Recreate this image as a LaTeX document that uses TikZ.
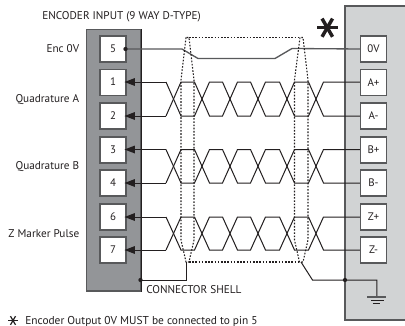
\documentclass[tikz,border=0pt]{standalone}
\usepackage{fontspec}
\setmainfont{PT Sans}
\definecolor{leftgray}{HTML}{939598}
\definecolor{rightgray}{HTML}{D1D3D4}
\definecolor{edgegray}{HTML}{58595B}
\definecolor{txt}{HTML}{231F20}
\tikzset{
  x=0.75pt,y=-0.75pt,
  pinbox/.style={draw=edgegray,fill=white,line width=0.9pt,minimum width=19.6pt,minimum height=19.6pt,inner sep=0pt,font=\fontsize{8.2pt}{9pt}\selectfont,text=txt},
  lab/.style={inner sep=0pt,font=\fontsize{8.42pt}{9pt}\selectfont,text=txt},
  wire/.style={line width=0.75pt,draw=txt},
  wirezero/.style={line width=1pt,draw=edgegray},
  shield/.style={line width=0.8pt,draw=txt,dash pattern=on 1.2pt off 1.2pt},
  jdot/.style={circle,fill=txt,inner sep=0pt,minimum size=3.2pt},
}
\begin{document}
\begin{tikzpicture}
\useasboundingbox (0,0) rectangle (405,326);
\fill[white] (0,0) rectangle (405,326);
% housings
\node[draw=edgegray,fill=leftgray,line width=1pt,minimum width=40.6pt,minimum height=196pt,inner sep=0pt,anchor=north west] (lhouse) at (86,29) {};
\draw[txt,line width=0.9pt] (lhouse.north east) -- (lhouse.south east);
\fill[rightgray] (345,6) rectangle (405,320);
\draw[edgegray,line width=1pt] (405,6) -- (345,6) -- (345,320) -- (405,320);
% pins
\foreach \n/\t/\yy in {p5/5/49,p1/1/82.5,p2/2/116,p3/3/150,p4/4/183,p6/6/217,p7/7/250}
  \node[pinbox] (\n) at (113,\yy) {\raisebox{0.6pt}{\t}};
\foreach \n/\t/\yy in {q0/0V/49,qa/A+/82.5,qb/A-/116,qc/B+/150,qd/B-/183,qe/Z+/217,qf/Z-/250}
  \node[pinbox] (\n) at (373.5,\yy) {\t};
% twisted pairs
\foreach \ta/\tb/\qa/\qb/\ya/\yb in {p1/p2/qa/qb/82/116,p3/p4/qc/qd/149.5/183,p6/p7/qe/qf/217/250}{
  \draw[wire] (166,\ya) -- (181,\yb) -- (194.5,\yb) -- (209.5,\ya) -- (222.5,\ya) -- (237.5,\yb) -- (250.5,\yb) -- (265.5,\ya) -- (279.5,\ya) -- (294.5,\yb) -- (308.5,\yb) -- (323.5,\ya) -- (\qa.west |- 0,\ya);
  \draw[wire] (166,\yb) -- (181,\ya) -- (194.5,\ya) -- (209.5,\yb) -- (222.5,\yb) -- (237.5,\ya) -- (250.5,\ya) -- (265.5,\yb) -- (279.5,\yb) -- (294.5,\ya) -- (308.5,\ya) -- (323.5,\yb) -- (\qb.west |- 0,\yb);
  \draw[wire] (166,\ya) -- (\ta.east |- 0,\ya);
  \draw[wire] (166,\yb) -- (\tb.east |- 0,\yb);
  \fill[txt] (124.5,\ya) -- (135,\ya-4) -- (135,\ya+4) -- cycle;
  \fill[txt] (124.5,\yb) -- (135,\yb-4) -- (135,\yb+4) -- cycle;
}
% 0V wire
\draw[wirezero] (p5.east) -- (182,49) -- (198,58.5) -- (275,58.5) -- (292,48.5) -- (q0.west);
\node[jdot] (d5) at (125.5,49) {};
% shields
\draw[shield] (186,37.5) -- (181,80) -- (181,240) -- (186,262) -- (189,262) -- (194,240) -- (194,80) -- (189,37.5) -- cycle;
\draw[shield] (300,37.5) -- (294.5,80) -- (294.5,240) -- (299.5,262) -- (303,262) -- (308,240) -- (308,80) -- (303,37.5) -- cycle;
\draw[shield] (189,37.5) -- (300,37.5);
\draw[shield] (189,262) -- (299.5,262);
% shell and ground wires
\coordinate (gnd) at (377,297);
\node[jdot] (dl) at (140.5,280) {};
\node[jdot] (dr) at (345,280) {};
\draw[wire] (dl.center) -- (187,280) -- (187,262);
\draw[wire] (301,262) -- (312.5,280) -- (dr.center) -- (377,280) -- (gnd);
\draw[edgegray,line width=1.1pt] (367.5,297) -- (386.5,297);
\draw[txt,line width=0.8pt] (371,300.5) -- (384,300.5);
\draw[txt,line width=0.8pt] (373,303.5) -- (380.5,303.5);
% labels
\node[lab,anchor=base west] (title) at (42,19.5) {ENCODER INPUT (9 WAY D-TYPE)};
\node[lab,anchor=east] (l0) at (79.5,49) {Enc 0V};
\node[lab,anchor=east] (la) at (79.5,99.7) {Quadrature A};
\node[lab,anchor=east] (lb) at (79.5,166.5) {Quadrature B};
\node[lab,anchor=east] (lz) at (79.5,233.5) {Z Marker Pulse};
\node[lab,anchor=base west] (shell) at (146,293) {CONNECTOR SHELL};
\node[lab,anchor=base west,font=\fontsize{8.55pt}{9pt}\selectfont] (note) at (25,324) {Encoder Output 0V MUST be connected to pin 5};
% asterisks
\foreach \a in {0,60,120}{
  \draw[txt,line width=2.6pt] (327.3,27.7) ++(\a:10.5) -- ++(180+\a:21);
  \draw[txt,line width=0.9pt] (13,320.5) ++(\a:5) -- ++(180+\a:10);
}
\end{tikzpicture}
\end{document}
